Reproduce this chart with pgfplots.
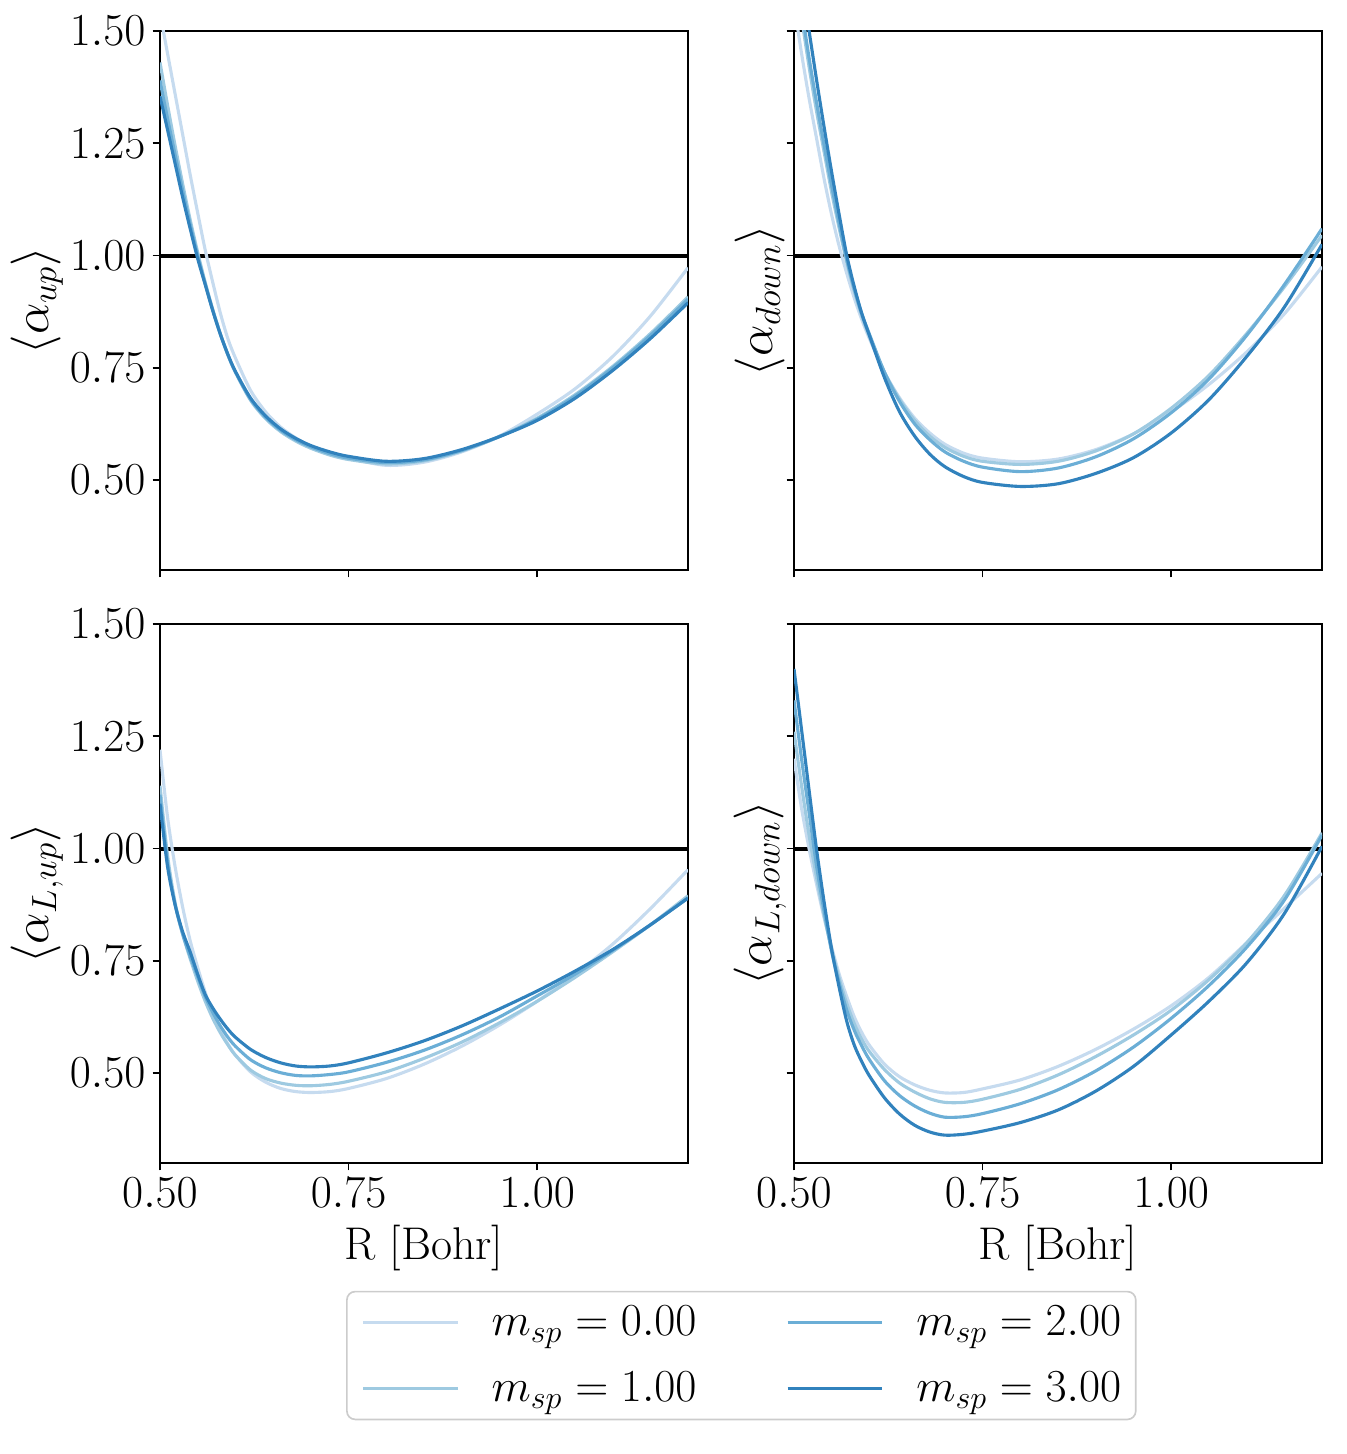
\RequirePackage{fix-cm}
\documentclass[border=0pt]{standalone}
\usepackage{pgfplots}
\usepackage{pgfplotstable}
\pgfplotsset{compat=1.18}

\definecolor{b0}{HTML}{C6DBEF}
\definecolor{b1}{HTML}{9ECAE1}
\definecolor{b2}{HTML}{6BAED6}
\definecolor{b3}{HTML}{3182BD}
\definecolor{legframe}{HTML}{CCCCCC}

% <alpha_up>
\pgfplotstableread{
x     m0    m1    m2    m3
0.50  1.54  1.43  1.39  1.355
0.51  1.45  1.335 1.305 1.28
0.52  1.36  1.245 1.225 1.205
0.53  1.27  1.16  1.145 1.13
0.54  1.18  1.08  1.07  1.06
0.55  1.095 1.007 1.0   0.993
0.56  1.012 0.94  0.937 0.935
0.57  0.94  0.88  0.878 0.877
0.58  0.872 0.826 0.825 0.825
0.59  0.815 0.779 0.779 0.780
0.60  0.772 0.740 0.741 0.742
0.62  0.70  0.678 0.680 0.683
0.64  0.652 0.637 0.640 0.643
0.66  0.618 0.608 0.611 0.614
0.68  0.594 0.587 0.590 0.593
0.70  0.576 0.571 0.574 0.577
0.725 0.56  0.556 0.559 0.563
0.75  0.549 0.546 0.549 0.553
0.80  0.533 0.536 0.539 0.542
0.85  0.54  0.543 0.545 0.548
0.90  0.563 0.565 0.566 0.568
0.95  0.598 0.597 0.597 0.597
1.00  0.647 0.638 0.636 0.633
1.05  0.703 0.69  0.687 0.682
1.10  0.775 0.753 0.75  0.744
1.15  0.865 0.826 0.822 0.815
1.20  0.973 0.908 0.903 0.895
}\TLdata

% <alpha_down>
\pgfplotstableread{
x     m0    m1    m2    m3
0.50  1.56  1.64  1.66  1.74
0.51  1.45  1.53  1.55  1.61
0.52  1.35  1.42  1.44  1.50
0.53  1.26  1.32  1.34  1.39
0.54  1.17  1.23  1.245 1.285
0.55  1.09  1.14  1.155 1.185
0.56  1.02  1.06  1.07  1.09
0.57  0.96  0.985 0.99  1.0
0.58  0.905 0.92  0.925 0.93
0.59  0.857 0.865 0.87  0.87
0.60  0.815 0.82  0.825 0.822
0.62  0.74  0.74  0.74  0.728
0.64  0.683 0.68  0.675 0.652
0.66  0.638 0.633 0.625 0.598
0.68  0.605 0.598 0.59  0.558
0.70  0.58  0.573 0.563 0.530
0.725 0.56  0.553 0.542 0.508
0.75  0.549 0.542 0.529 0.495
0.80  0.541 0.535 0.519 0.486
0.85  0.547 0.542 0.527 0.492
0.90  0.568 0.565 0.552 0.515
0.95  0.603 0.603 0.592 0.55
1.00  0.652 0.66  0.650 0.605
1.05  0.713 0.733 0.725 0.679
1.10  0.785 0.826 0.822 0.775
1.15  0.87  0.93  0.935 0.885
1.20  0.975 1.045 1.06  1.025
}\TRdata

% <alpha_L,up>
\pgfplotstableread{
x     m0    m1    m2    m3
0.50  1.22  1.14  1.12  1.10
0.51  1.07  0.985 0.97  0.96
0.52  0.96  0.88  0.875 0.875
0.53  0.87  0.81  0.81  0.815
0.54  0.795 0.755 0.76  0.77
0.55  0.735 0.705 0.715 0.72
0.56  0.68  0.66  0.67  0.675
0.57  0.632 0.622 0.635 0.645
0.58  0.595 0.59  0.605 0.62
0.59  0.565 0.563 0.58  0.598
0.60  0.54  0.54  0.56  0.58
0.62  0.503 0.507 0.53  0.553
0.64  0.48  0.488 0.512 0.535
0.66  0.466 0.478 0.501 0.523
0.68  0.459 0.473 0.495 0.516
0.70  0.457 0.472 0.494 0.514
0.725 0.459 0.475 0.497 0.516
0.75  0.466 0.482 0.503 0.523
0.80  0.488 0.503 0.524 0.545
0.85  0.52  0.533 0.551 0.572
0.90  0.56  0.569 0.585 0.605
0.95  0.607 0.612 0.625 0.643
1.00  0.66  0.66  0.672 0.683
1.05  0.72  0.713 0.72  0.727
1.10  0.787 0.77  0.773 0.775
1.15  0.866 0.83  0.83  0.83
1.20  0.953 0.895 0.89  0.89
}\BLdata

% <alpha_L,down>
\pgfplotstableread{
x     m0    m1    m2    m3
0.50  1.20  1.26  1.33  1.40
0.51  1.09  1.14  1.20  1.265
0.52  1.0   1.03  1.08  1.13
0.53  0.92  0.935 0.96  0.997
0.54  0.845 0.85  0.86  0.88
0.55  0.78  0.775 0.77  0.775
0.56  0.72  0.71  0.70  0.69
0.57  0.67  0.655 0.64  0.615
0.58  0.625 0.61  0.595 0.562
0.59  0.59  0.575 0.56  0.525
0.60  0.562 0.548 0.53  0.494
0.62  0.52  0.508 0.483 0.445
0.64  0.492 0.478 0.45  0.409
0.66  0.474 0.458 0.427 0.384
0.68  0.462 0.443 0.411 0.369
0.70  0.456 0.435 0.402 0.362
0.725 0.457 0.435 0.403 0.364
0.75  0.465 0.442 0.41  0.371
0.80  0.485 0.464 0.432 0.39
0.85  0.515 0.496 0.463 0.418
0.90  0.553 0.537 0.505 0.46
0.95  0.598 0.585 0.558 0.515
1.00  0.65  0.64  0.622 0.585
1.05  0.713 0.708 0.695 0.66
1.10  0.79  0.79  0.78  0.745
1.15  0.867 0.895 0.885 0.855
1.20  0.945 1.035 1.03  1.005
}\BRdata

\pgfplotsset{
  panel/.style={
    scale only axis, width=253.44pt, height=258.72pt,
    xmin=0.5, xmax=1.2, ymin=0.3, ymax=1.5,
    xtick={0.5,0.75,1.0}, ytick={0.5,0.75,1.0,1.25,1.5},
    tick pos=left, tick align=outside, major tick length=3.5pt,
    every tick/.style={black, line width=0.8pt},
    axis line style={line width=0.8pt},
    xticklabel style={/pgf/number format/fixed, /pgf/number format/fixed zerofill, /pgf/number format/precision=2},
    yticklabel style={/pgf/number format/fixed, /pgf/number format/fixed zerofill, /pgf/number format/precision=2},
    font=\fontsize{22}{26}\selectfont,
    xlabel style={at={(axis description cs:0.5,-0.158)}, anchor=center},
    ylabel style={anchor=center, font=\fontsize{24}{28}\selectfont},
  },
  leftpanel/.style={ylabel style={at={(axis description cs:-0.233,0.5)}}},
  rightpanel/.style={yticklabels={}, ylabel style={at={(axis description cs:-0.064,0.5)}}},
  toppanel/.style={xticklabels={}},
}

\newcommand{\curves}[1]{%
  \addplot[black, line width=1.9pt, forget plot] coordinates {(0.5,1) (1.2,1)};
  \addplot[b0, line width=1.5pt, smooth, forget plot] table[x=x, y=m0] {#1};
  \addplot[b1, line width=1.5pt, smooth, forget plot] table[x=x, y=m1] {#1};
  \addplot[b2, line width=1.5pt, smooth, forget plot] table[x=x, y=m2] {#1};
  \addplot[b3, line width=1.5pt, smooth, forget plot] table[x=x, y=m3] {#1};
}

\begin{document}
\begin{tikzpicture}
\useasboundingbox (0,0) rectangle (646.08pt,-697.92pt);

\begin{axis}[panel, leftpanel, toppanel,
  at={(76.8pt,-14.88pt)}, anchor=north west,
  ylabel={$\langle \alpha_{up} \rangle$}]
\curves{\TLdata}
\end{axis}

\begin{axis}[panel, rightpanel, toppanel,
  at={(381.12pt,-14.88pt)}, anchor=north west,
  ylabel={$\langle \alpha_{down} \rangle$}]
\curves{\TRdata}
\end{axis}

\begin{axis}[panel, leftpanel,
  at={(76.8pt,-299.52pt)}, anchor=north west,
  xlabel={R [Bohr]},
  ylabel={$\langle \alpha_{L,up} \rangle$},
  legend columns=2,
  legend image code/.code={\draw[#1] (0pt,0pt) -- (45.5pt,0pt);},
  legend style={at={(axis description cs:1.101,-0.237)}, anchor=north,
    draw=legframe, line width=0.8pt, rounded corners=4pt,
    inner xsep=7pt, inner ysep=7pt,
    nodes={inner sep=0pt}, cells={anchor=west},
    row sep=16pt,
    /tikz/every odd column/.append style={column sep=15.5pt},
    /tikz/every even column/.append style={column sep=43pt},
    font=\fontsize{22}{26}\selectfont}]
\curves{\BLdata}
\addlegendimage{b0, line width=1.5pt}
\addlegendentry{$m_{sp} = 0.00$}
\addlegendimage{b2, line width=1.5pt}
\addlegendentry{$m_{sp} = 2.00$}
\addlegendimage{b1, line width=1.5pt}
\addlegendentry{$m_{sp} = 1.00$}
\addlegendimage{b3, line width=1.5pt}
\addlegendentry{$m_{sp} = 3.00$}
\end{axis}

\begin{axis}[panel, rightpanel,
  at={(381.12pt,-299.52pt)}, anchor=north west,
  xlabel={R [Bohr]},
  ylabel={$\langle \alpha_{L,down} \rangle$}]
\curves{\BRdata}
\end{axis}
\end{tikzpicture}
\end{document}
